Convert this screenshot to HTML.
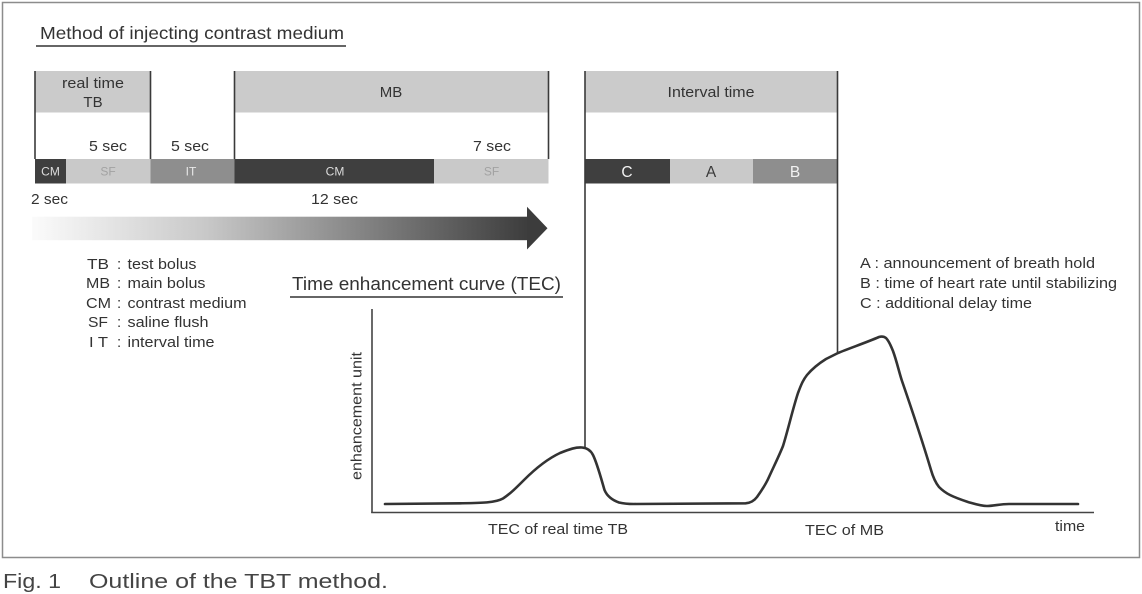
<!DOCTYPE html>
<html>
<head>
<meta charset="utf-8">
<style>
  html, body { margin:0; padding:0; background:#ffffff; }
  body { width:1142px; height:594px; overflow:hidden; }
  svg { display:block; }
  text { font-family: "Liberation Sans", Arial, sans-serif; fill:#333333; }
</style>
</head>
<body>
<svg width="1142" height="594" viewBox="0 0 1142 594" xmlns="http://www.w3.org/2000/svg">
  <defs>
    <linearGradient id="arr" x1="32" y1="0" x2="530" y2="0" gradientUnits="userSpaceOnUse">
      <stop offset="0" stop-color="#fbfbfb"/>
      <stop offset="0.35" stop-color="#c8c8c8"/>
      <stop offset="0.7" stop-color="#7c7c7c"/>
      <stop offset="1" stop-color="#3c3c3c"/>
    </linearGradient>
  </defs>

  <!-- outer frame -->
  <rect x="2.5" y="2.5" width="1137" height="555" fill="none" stroke="#8c8c8c" stroke-width="1.5"/>

  <!-- title -->
  <text x="40" y="39" font-size="17.5" textLength="304" lengthAdjust="spacingAndGlyphs">Method of injecting contrast medium</text>
  <line x1="36" y1="46" x2="346" y2="46" stroke="#333" stroke-width="1.6"/>

  <!-- header boxes -->
  <rect x="35" y="71" width="115.5" height="41.5" fill="#cbcbcb"/>
  <rect x="234.5" y="71" width="314" height="41.5" fill="#cbcbcb"/>
  <rect x="585" y="71" width="252.5" height="41.5" fill="#cbcbcb"/>

  <text x="93" y="88" font-size="15" text-anchor="middle" textLength="62" lengthAdjust="spacingAndGlyphs">real time</text>
  <text x="93" y="107" font-size="15" text-anchor="middle">TB</text>
  <text x="391" y="97" font-size="15" text-anchor="middle">MB</text>
  <text x="711" y="97" font-size="15" text-anchor="middle" textLength="87" lengthAdjust="spacingAndGlyphs">Interval time</text>

  <!-- seconds -->
  <text x="89" y="151" font-size="15" textLength="38" lengthAdjust="spacingAndGlyphs">5 sec</text>
  <text x="171" y="151" font-size="15" textLength="38" lengthAdjust="spacingAndGlyphs">5 sec</text>
  <text x="473" y="151" font-size="15" textLength="38" lengthAdjust="spacingAndGlyphs">7 sec</text>

  <!-- bars -->
  <rect x="35" y="159" width="31" height="24.5" fill="#3f3f3f"/>
  <rect x="66" y="159" width="84.5" height="24.5" fill="#c9c9c9"/>
  <rect x="150.5" y="159" width="84" height="24.5" fill="#8e8e8e"/>
  <rect x="234.5" y="159" width="199.5" height="24.5" fill="#3f3f3f"/>
  <rect x="434" y="159" width="114.5" height="24.5" fill="#c9c9c9"/>
  <rect x="585" y="159" width="85" height="24.5" fill="#3f3f3f"/>
  <rect x="670" y="159" width="83" height="24.5" fill="#c9c9c9"/>
  <rect x="753" y="159" width="84.5" height="24.5" fill="#8e8e8e"/>

  <text x="50.5" y="175.5" font-size="12" text-anchor="middle" style="fill:#dcdcdc">CM</text>
  <text x="108" y="175.5" font-size="12" text-anchor="middle" style="fill:#a2a2a2">SF</text>
  <text x="191" y="175.5" font-size="12" text-anchor="middle" style="fill:#e8e8e8">IT</text>
  <text x="335" y="175.5" font-size="12" text-anchor="middle" style="fill:#dcdcdc">CM</text>
  <text x="491.5" y="175.5" font-size="12" text-anchor="middle" style="fill:#a2a2a2">SF</text>
  <text x="627" y="177" font-size="15.5" text-anchor="middle" style="fill:#f2f2f2">C</text>
  <text x="711" y="177" font-size="15.5" text-anchor="middle" style="fill:#3a3a3a">A</text>
  <text x="795" y="177" font-size="15.5" text-anchor="middle" style="fill:#f2f2f2">B</text>

  <!-- vertical separators -->
  <g stroke="#3a3a3a" stroke-width="1.6">
    <line x1="35" y1="71" x2="35" y2="159"/>
    <line x1="150.5" y1="71" x2="150.5" y2="159"/>
    <line x1="234.5" y1="71" x2="234.5" y2="159"/>
    <line x1="548.5" y1="71" x2="548.5" y2="159"/>
    <line x1="585" y1="71" x2="585" y2="448"/>
    <line x1="837.5" y1="71" x2="837.5" y2="353"/>
  </g>

  <!-- durations -->
  <text x="31" y="204" font-size="15" textLength="37" lengthAdjust="spacingAndGlyphs">2 sec</text>
  <text x="311" y="204" font-size="15" textLength="47" lengthAdjust="spacingAndGlyphs">12 sec</text>

  <!-- gradient arrow -->
  <rect x="32" y="216.7" width="496" height="23.5" fill="url(#arr)"/>
  <polygon points="527,206.7 547.5,228.3 527,249.5" fill="#3c3c3c"/>

  <!-- left legend -->
  <g font-size="15">
    <text x="87" y="269" textLength="22" lengthAdjust="spacingAndGlyphs">TB</text>
    <text x="86" y="288" textLength="24" lengthAdjust="spacingAndGlyphs">MB</text>
    <text x="86" y="308" textLength="25" lengthAdjust="spacingAndGlyphs">CM</text>
    <text x="88" y="327" textLength="20" lengthAdjust="spacingAndGlyphs">SF</text>
    <text x="89" y="347" textLength="19" lengthAdjust="spacingAndGlyphs">I T</text>
    <text x="117" y="269">:</text>
    <text x="117" y="288">:</text>
    <text x="117" y="308">:</text>
    <text x="117" y="327">:</text>
    <text x="117" y="347">:</text>
    <text x="127.5" y="269" textLength="69" lengthAdjust="spacingAndGlyphs">test bolus</text>
    <text x="127.5" y="288" textLength="78" lengthAdjust="spacingAndGlyphs">main bolus</text>
    <text x="127.5" y="308" textLength="119" lengthAdjust="spacingAndGlyphs">contrast medium</text>
    <text x="127.5" y="327" textLength="81" lengthAdjust="spacingAndGlyphs">saline flush</text>
    <text x="127.5" y="347" textLength="87" lengthAdjust="spacingAndGlyphs">interval time</text>
  </g>

  <!-- TEC title -->
  <text x="292" y="290" font-size="18.5" textLength="269" lengthAdjust="spacingAndGlyphs">Time enhancement curve (TEC)</text>
  <line x1="290" y1="297" x2="563" y2="297" stroke="#333" stroke-width="1.6"/>

  <!-- right legend -->
  <g font-size="15">
    <text x="860" y="268" textLength="235" lengthAdjust="spacingAndGlyphs">A : announcement of breath hold</text>
    <text x="860" y="288" textLength="257" lengthAdjust="spacingAndGlyphs">B : time of heart rate until stabilizing</text>
    <text x="860" y="308" textLength="172" lengthAdjust="spacingAndGlyphs">C : additional delay time</text>
  </g>

  <!-- axes -->
  <line x1="372" y1="309" x2="372" y2="513" stroke="#444" stroke-width="1.6"/>
  <line x1="371.2" y1="512.5" x2="1094" y2="512.5" stroke="#444" stroke-width="1.6"/>
  <text transform="translate(361.5,416) rotate(-90)" font-size="15" text-anchor="middle" textLength="128" lengthAdjust="spacingAndGlyphs">enhancement unit</text>

  <!-- curve -->
  <path fill="none" stroke="#333" stroke-width="2.6" stroke-linejoin="round" stroke-linecap="round"
    d="M385,504 L460,503.3 C480,503 495,503 503,498.5 C510,494 516,488 524,480
       C532,472 545,460 560,453 C570,449 576,447 582,447.5 C588,448 591,451 593,455
       C597,463 601,478 604.5,490 C607,496 612,500 619,502.5 C625,504 630,504 634,504
       L745.6,503.3 C750,503 754,501 757,497 C762,490 766,484 769,477
       C774,466 779,456 783,446 C788,430 793,408 798,393 C801,385 803,380 807,375
       C812,369 818,364 826,359 C830,357 834,355 838,353 C850,348 865,343 879,337
       C882,336 884,336.5 886,338 C889,341 891,346 893,351 C897,362 899,372 902,381
       C912,410 922,440 931,470 C933,477 935,482 939,487 C943,491 946,493 950,495
       C956,498 962,500 968,502 C975,504 981,506 987,506 C994,506 1000,504 1009,504
       L1078,504"/>

  <!-- x labels -->
  <text x="488" y="534" font-size="15" textLength="140" lengthAdjust="spacingAndGlyphs">TEC of real time TB</text>
  <text x="805" y="535" font-size="15" textLength="79" lengthAdjust="spacingAndGlyphs">TEC of MB</text>
  <text x="1055" y="531" font-size="15" textLength="30" lengthAdjust="spacingAndGlyphs">time</text>

  <!-- caption -->
  <text x="3" y="588" font-size="20.5" style="fill:#444" textLength="58" lengthAdjust="spacingAndGlyphs">Fig. 1</text>
  <text x="89" y="588" font-size="20.5" style="fill:#444" textLength="299" lengthAdjust="spacingAndGlyphs">Outline of the TBT method.</text>
</svg>
</body>
</html>
